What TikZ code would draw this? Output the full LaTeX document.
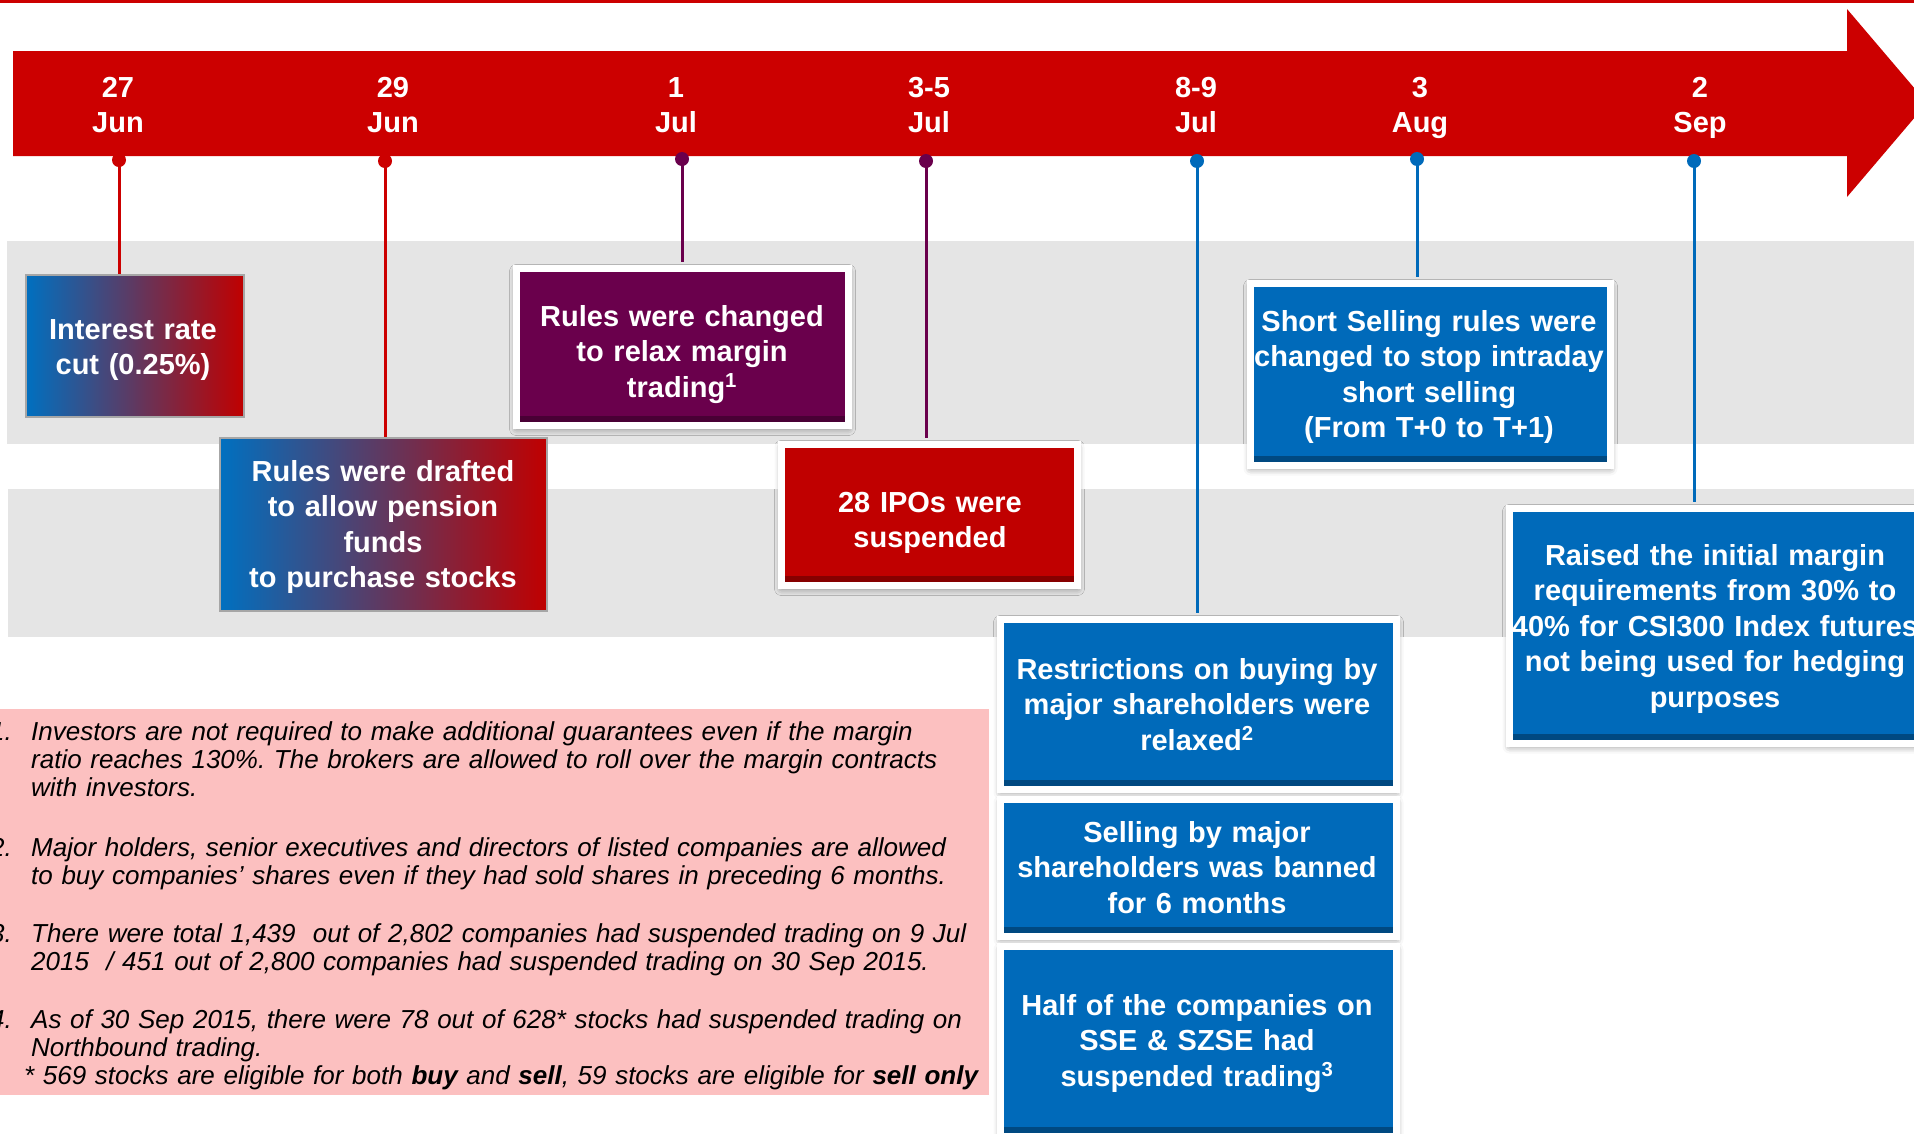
\documentclass[tikz,border=0pt]{standalone}
\usepackage{fontspec}
\setmainfont{Liberation Sans}
\usepackage{xcolor}
\usetikzlibrary{positioning, calc, shadows.blur}
\frenchspacing

\definecolor{bandred}{RGB}{204,0,0}
\definecolor{boxred}{RGB}{192,0,0}
\definecolor{boxpurple}{RGB}{106,0,76}
\definecolor{boxblue}{RGB}{0,106,186}
\definecolor{gradblue}{RGB}{0,112,192}
\definecolor{bandgray}{RGB}{229,229,229}
\definecolor{notepink}{RGB}{252,192,192}

\newcommand{\evfont}{\bfseries\fontsize{29}{35.5}\selectfont}
\newcommand{\fnfont}{\itshape\fontsize{26}{28.4}\selectfont}

\tikzset{
  evbox/.style={rectangle, inner sep=0pt, fill=#1, draw=white, line width=7pt,
    blur shadow={shadow xshift=0pt, shadow yshift=-3pt, shadow blur radius=7pt, shadow opacity=45},
    path picture={\fill[black, opacity=.3] ([yshift=3.5pt]path picture bounding box.south west)
      rectangle ([yshift=9.5pt]path picture bounding box.south east);}},
  gradbox/.style={rectangle, inner sep=0pt, left color=gradblue, right color=boxred,
    draw=black!35, line width=2pt},
  evtext/.style={text=white, font=\evfont, align=center, text width=440pt, anchor=base, inner sep=0pt},
  datelbl/.style={text=white, font=\evfont, align=center, text width=90pt, anchor=base, inner sep=0pt},
  datedot/.style={circle, fill=#1, minimum size=14pt, inner sep=0pt},
  stemline/.style={draw=#1, line width=3pt, shorten >=3.5pt},
  fnote/.style={font=\fnfont, align=left, text width=960pt, anchor=base west, inner sep=0pt},
  fnum/.style={font=\fnfont, anchor=base east, inner sep=0pt}
}

\begin{document}
\begin{tikzpicture}[x=1pt, y=-1pt]
    \useasboundingbox (0,0) rectangle (1914,1133);
    \clip (0,0) rectangle (1914,1133);

    % Thin rule along the top edge
    \fill[bandred] (0,0) rectangle (1914,3);

    % Grey rows behind the event boxes
    \fill[bandgray] (7,241) rectangle (1914,444);
    \fill[bandgray] (8,489) rectangle (1914,637);

    % Notes panel
    \fill[notepink] (0,709) rectangle (989,1095);

    % Timeline arrow
    \fill[bandred] (13,51) -- (1847,51) -- (1847,9) -- (1927,103)
                   -- (1847,197) -- (1847,156) -- (13,156) -- cycle;

    % Dates on the arrow
    \node[datelbl] (d27jun) at (118,97) {27\\Jun};
    \node[datelbl] (d29jun) at (393,97) {29\\Jun};
    \node[datelbl] (d1jul) at (676,97) {1\\Jul};
    \node[datelbl] (d35jul) at (929,97) {3-5\\Jul};
    \node[datelbl] (d89jul) at (1196,97) {8-9\\Jul};
    \node[datelbl] (d3aug) at (1420,97) {3\\Aug};
    \node[datelbl] (d2sep) at (1700,97) {2\\Sep};

    % Dots under the arrow
    \node[datedot=bandred] (p27jun) at (119,160) {};
    \node[datedot=bandred] (p29jun) at (385,161) {};
    \node[datedot=boxpurple] (p1jul) at (682,159) {};
    \node[datedot=boxpurple] (p35jul) at (926,161) {};
    \node[datedot=boxblue] (p89jul) at (1197,161) {};
    \node[datedot=boxblue] (p3aug) at (1417,159) {};
    \node[datedot=boxblue] (p2sep) at (1694,161) {};

    % Shaded boxes for the first two dates
    \node[gradbox, minimum width=218pt, minimum height=142pt] (ratecut) at (135,346) {};
    \node[evtext] (ratecuttxt) at (133,339) {Interest rate\\cut (0.25\%)};
    \node[gradbox, minimum width=327pt, minimum height=173pt] (pension) at (383.5,524.5) {};
    \node[evtext] (pensiontxt) at (383,481) {Rules were drafted\\to allow pension\\funds\\to purchase stocks};

    % Framed boxes
    \node[evbox=boxpurple, minimum width=332pt, minimum height=157pt] (margin) at (682.5,347) {};
    \node[evtext] (margintxt) at (682,326) {Rules were changed\\to relax margin\\trading\textsuperscript{1}};

    \node[evbox=boxred, minimum width=296pt, minimum height=141pt] (ipo) at (929.5,515) {};
    \node[evtext] (ipotxt) at (930,512) {28 IPOs were\\suspended};

    \node[evbox=boxblue, minimum width=360pt, minimum height=182pt] (shortsell) at (1430.5,374.5) {};
    \node[evtext] (shortselltxt) at (1429,331) {Short Selling rules were\\changed to stop intraday\\short selling\\(From T+0 to T+1)};

    \node[evbox=boxblue, minimum width=396pt, minimum height=170pt] (buying) at (1198.5,704.5) {};
    \node[evtext] (buyingtxt) at (1197,679) {Restrictions on buying by\\major shareholders were\\relaxed\textsuperscript{2}};

    \node[evbox=boxblue, minimum width=396pt, minimum height=137pt] (selling) at (1198.5,868) {};
    \node[evtext] (sellingtxt) at (1197,842) {Selling by major\\shareholders was banned\\for 6 months};

    \node[evbox=boxblue, minimum width=396pt, minimum height=190pt] (halted) at (1198.5,1041.5) {};
    \node[evtext] (haltedtxt) at (1197,1015) {Half of the companies on\\SSE \& SZSE had\\suspended trading\textsuperscript{3}};

    \node[evbox=boxblue, minimum width=411pt, minimum height=235pt] (futures) at (1715,626) {};
    \node[evtext] (futurestxt) at (1715,565) {Raised the initial margin\\requirements from 30\% to\\40\% for CSI300 Index futures\\not being used for hedging\\purposes};

    % Stems from the dots down to the boxes
    \draw[stemline=bandred, shorten >=0pt] (p27jun.center) -- (p27jun.center |- ratecut.north);
    \draw[stemline=bandred, shorten >=0pt] (p29jun.center) -- (p29jun.center |- pension.north);
    \draw[stemline=boxpurple] (p1jul.center) -- (p1jul.center |- margin.north);
    \draw[stemline=boxpurple] (p35jul.center) -- (p35jul.center |- ipo.north);
    \draw[stemline=boxblue] (p89jul.center) -- (p89jul.center |- buying.north);
    \draw[stemline=boxblue] (p3aug.center) -- (p3aug.center |- shortsell.north);
    \draw[stemline=boxblue] (p2sep.center) -- (p2sep.center |- futures.north);

    % Notes
    \node[fnum] (n1) at (12,740) {1.};
    \node[fnote] (note1) at (31,740) {Investors are not required to make additional guarantees even if the margin\\ratio reaches 130\%. The brokers are allowed to roll over the margin contracts\\with investors.};
    \node[fnum] (n2) at (12,856) {2.};
    \node[fnote] (note2) at (31,856) {Major holders, senior executives and directors of listed companies are allowed\\to buy companies’ shares even if they had sold shares in preceding 6 months.};
    \node[fnum] (n3) at (12,942) {3.};
    \node[fnote] (note3) at (31,942) {There were total 1,439\ \ out of 2,802 companies had suspended trading on 9 Jul\\2015\ \ / 451 out of 2,800 companies had suspended trading on 30 Sep 2015.};
    \node[fnum] (n4) at (12,1028) {4.};
    \node[fnote] (note4) at (31,1028) {As of 30 Sep 2015, there were 78 out of 628* stocks had suspended trading on\\Northbound trading.\\\hspace*{-7pt}* 569 stocks are eligible for both \textbf{buy} and \textbf{sell}, 59 stocks are eligible for \textbf{sell only}};

\end{tikzpicture}
\end{document}
